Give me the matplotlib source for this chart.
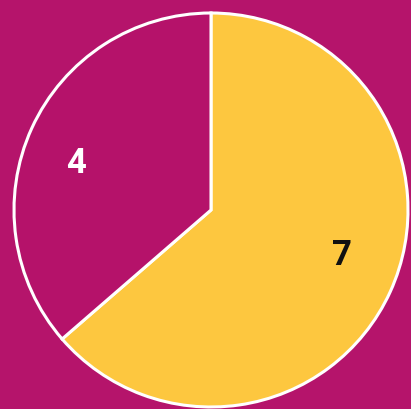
import numpy as np
import matplotlib
matplotlib.use('Agg')
import matplotlib.pyplot as plt

# Data
values = [7, 4]
labels = ['7', '4']
colors = ['#FDC73F', '#B5126A']
label_colors = ['#111111', '#FFFFFF']

BG = '#B5146B'
W, H = 411, 410
CENTER = (211, H - 211)
RADIUS = 197

fig = plt.figure(figsize=(W / 100, H / 100), dpi=100)
fig.patch.set_facecolor(BG)
ax = fig.add_axes([0, 0, 1, 1])
ax.set_facecolor(BG)

wedges, texts = ax.pie(values, labels=labels, colors=colors, startangle=90,
                       counterclock=False, center=CENTER, radius=RADIUS,
                       labeldistance=0.71,
                       wedgeprops=dict(edgecolor='white', linewidth=2.2),
                       textprops=dict(fontsize=25, fontweight='bold',
                                      family='Roboto'))

# nudge labels to where they sit in the original
label_angles = [-18.6, 160.4]
label_dist = [138, 143]
for t, c, a, d in zip(texts, label_colors, label_angles, label_dist):
    t.set_color(c)
    t.set_ha('center')
    t.set_va('center')
    t.set_position((CENTER[0] + d * np.cos(np.radians(a)),
                    CENTER[1] + d * np.sin(np.radians(a))))

ax.set_xlim(0, W)
ax.set_ylim(0, H)
ax.set_aspect('equal')
ax.axis('off')

fig.savefig('out.png', dpi=100, facecolor=BG)
